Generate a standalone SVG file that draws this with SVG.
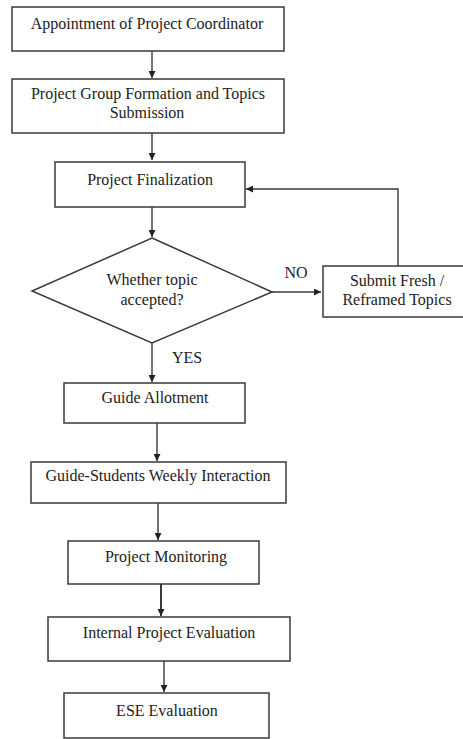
<svg xmlns="http://www.w3.org/2000/svg" width="463" height="739" viewBox="0 0 463 739">
  <style>
    .box { fill: #ffffff; stroke: #3a3a3a; stroke-width: 1.5; }
    .lbl { font-family: "Liberation Serif", "Times New Roman", serif; font-size: 16px; fill: #222222; text-anchor: middle; }
    .edge { fill: none; stroke: #3a3a3a; stroke-width: 1.4; }
  </style>
  <defs>
    <marker id="arrow" viewBox="0 0 10 10" refX="10" refY="5" markerWidth="7" markerHeight="7" markerUnits="userSpaceOnUse" orient="auto">
      <path d="M0,0 L10,5 L0,10 z" fill="#222222"/>
    </marker>
  </defs>
  <rect width="463" height="739" fill="#ffffff"/>

  <g id="connectors">
    <line class="edge" x1="152" y1="51" x2="152" y2="78" marker-end="url(#arrow)"/>
    <line class="edge" x1="152" y1="133" x2="152" y2="160" marker-end="url(#arrow)"/>
    <line class="edge" x1="152" y1="207" x2="152" y2="237" marker-end="url(#arrow)"/>
    <line class="edge" x1="272" y1="292" x2="321" y2="292" marker-end="url(#arrow)"/>
    <polyline class="edge" points="398,266 398,189 246,189" marker-end="url(#arrow)"/>
    <line class="edge" x1="152" y1="343" x2="152" y2="382" marker-end="url(#arrow)"/>
    <line class="edge" x1="157" y1="423" x2="157" y2="461" marker-end="url(#arrow)"/>
    <line class="edge" x1="158" y1="503" x2="158" y2="540" marker-end="url(#arrow)"/>
    <line class="edge" x1="161" y1="584" x2="161" y2="616" marker-end="url(#arrow)" style="stroke-width:2"/>
    <line class="edge" x1="164" y1="661" x2="164" y2="692" marker-end="url(#arrow)"/>
    <text class="lbl" x="296" y="278">NO</text>
    <text class="lbl" x="187" y="363">YES</text>
  </g>

  <g id="coordinator">
    <rect class="box" x="12" y="7" width="272" height="44"/>
    <text class="lbl" x="147" y="29">Appointment of Project Coordinator</text>
  </g>
  <g id="group-formation">
    <rect class="box" x="12" y="79" width="272" height="54"/>
    <text class="lbl" x="148" y="99">Project Group Formation and Topics</text>
    <text class="lbl" x="147" y="118">Submission</text>
  </g>
  <g id="finalization">
    <rect class="box" x="55" y="162" width="190" height="45"/>
    <text class="lbl" x="150" y="185">Project Finalization</text>
  </g>
  <g id="decision">
    <polygon class="box" points="152,238 272,292 152,343 32,291"/>
    <text class="lbl" x="152" y="285">Whether topic</text>
    <text class="lbl" x="152" y="305">accepted?</text>
  </g>
  <g id="resubmit">
    <rect class="box" x="323" y="266" width="145" height="51"/>
    <text class="lbl" x="397" y="286">Submit Fresh /</text>
    <text class="lbl" x="397" y="305">Reframed Topics</text>
  </g>
  <g id="guide-allotment">
    <rect class="box" x="64" y="383" width="181" height="40"/>
    <text class="lbl" x="155" y="403">Guide Allotment</text>
  </g>
  <g id="weekly-interaction">
    <rect class="box" x="31" y="462" width="255" height="41"/>
    <text class="lbl" x="158" y="481">Guide-Students Weekly Interaction</text>
  </g>
  <g id="monitoring">
    <rect class="box" x="68" y="541" width="191" height="43"/>
    <text class="lbl" x="166" y="562">Project Monitoring</text>
  </g>
  <g id="internal-evaluation">
    <rect class="box" x="48" y="617" width="242" height="44"/>
    <text class="lbl" x="169" y="638">Internal Project Evaluation</text>
  </g>
  <g id="ese-evaluation">
    <rect class="box" x="64" y="693" width="205" height="45"/>
    <text class="lbl" x="167" y="716">ESE Evaluation</text>
  </g>
</svg>
